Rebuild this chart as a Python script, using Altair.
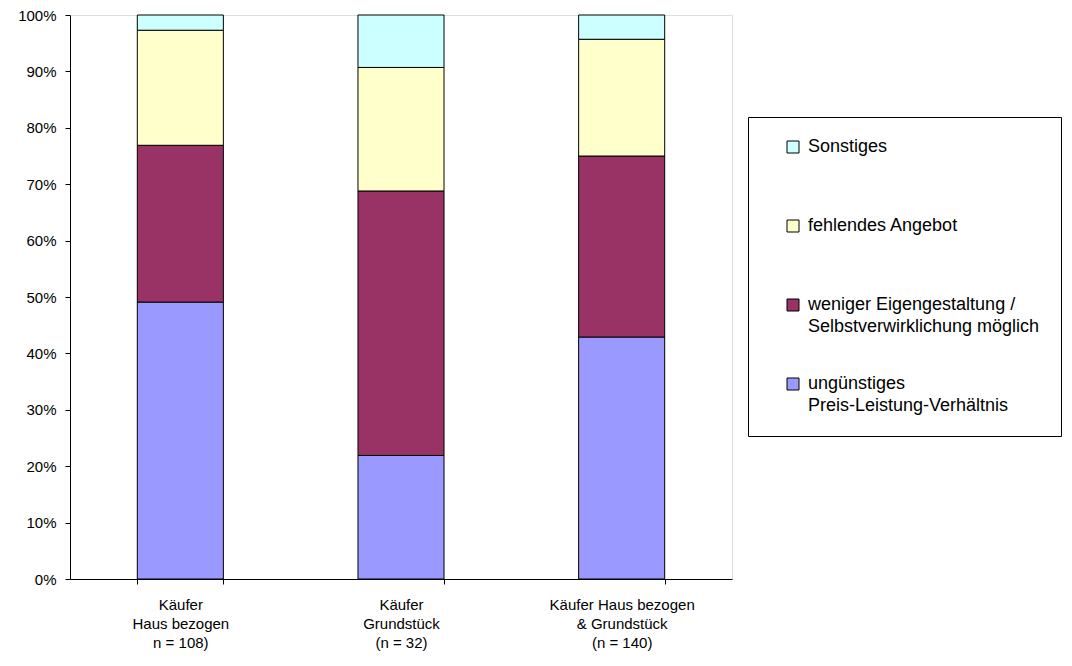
import altair as alt
import pandas as pd

groups = ["Käufer|Haus bezogen|n = 108)", "Käufer|Grundstück|(n = 32)", "Käufer Haus bezogen|& Grundstück|(n = 140)"]
categories = ["ungünstiges|Preis-Leistung-Verhältnis",
              "weniger Eigengestaltung /|Selbstverwirklichung möglich",
              "fehlendes Angebot| ",
              "Sonstiges| "]
colors = ["#9999FF", "#993366", "#FFFFCC", "#CCFFFF"]
values = {
    groups[0]: [49.1, 27.8, 20.4, 2.7],
    groups[1]: [21.9, 46.9, 21.9, 9.3],
    groups[2]: [42.9, 32.1, 20.7, 4.3],
}

rows = []
for g in groups:
    for i, c in enumerate(categories):
        rows.append({"group": g, "cat": c, "rank": i, "pct": values[g][i] / 100})
df = pd.DataFrame(rows)

FONT = "Liberation Sans"

chart = alt.Chart(df).mark_bar(stroke="black", strokeWidth=1).encode(
    x=alt.X("group:N", sort=groups, title=None,
            scale=alt.Scale(paddingInner=0.61, paddingOuter=0.305),
            axis=alt.Axis(labelExpr="split(datum.label, '|')", labelAngle=0,
                          labelFontSize=15, labelLineHeight=19, labelPadding=13,
                          tickBand="extent", tickSize=5, tickColor="black",
                          domainColor="black", labelColor="black", labelFont=FONT)),
    y=alt.Y("pct:Q", stack="zero", title=None,
            scale=alt.Scale(domain=[0, 1], nice=False),
            axis=alt.Axis(format="%", values=[i / 10 for i in range(11)], grid=False,
                          tickSize=5, tickColor="black", domainColor="black",
                          labelFontSize=15, labelPadding=9, labelColor="black",
                          labelFont=FONT)),
    color=alt.Color("cat:N", title=None,
                    scale=alt.Scale(domain=categories[::-1], range=colors[::-1]),
                    legend=alt.Legend(orient="none", legendX=678, legendY=102,
                                      labelExpr="split(datum.label, '|')",
                                      labelFontSize=18, labelFont=FONT, labelColor="black",
                                      symbolType="square", symbolSize=144,
                                      symbolStrokeColor="black", symbolStrokeWidth=1,
                                      symbolOffset=15, rowPadding=39,
                                      labelBaseline="middle", labelOffset=6,
                                      strokeColor="black", fillColor="white",
                                      padding=21, labelLimit=600)),
    order=alt.Order("rank:Q"),
).properties(
    width=662, height=564,
    autosize="none",
    padding={"left": 62, "top": 7, "right": 332, "bottom": 79},
).configure_view(stroke="black", strokeWidth=1).configure(
    font=FONT, style={"guide-label": {"lineHeight": 22}}
)

chart.save("out.html", embed_options={"renderer": "svg", "actions": False})
